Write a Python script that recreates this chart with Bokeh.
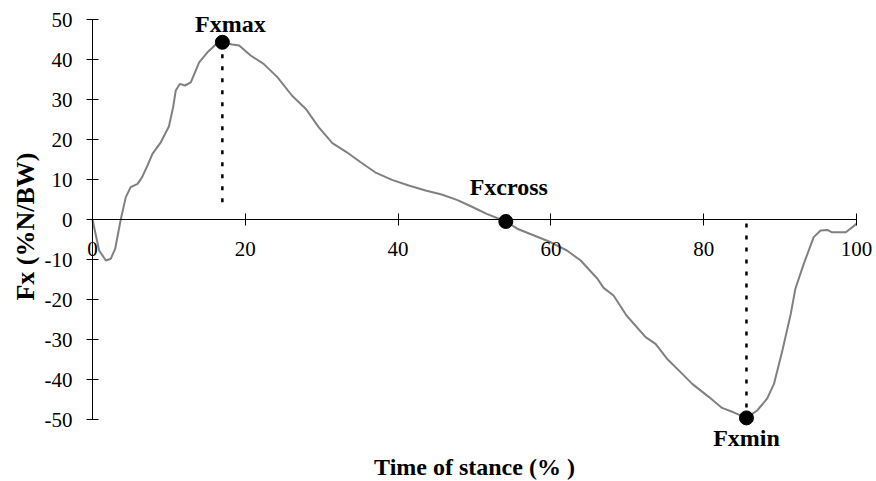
import math

from bokeh.plotting import figure
from bokeh.models import Range1d, LinearAxis, Label, FixedTicker
from bokeh.embed import file_html
from bokeh.resources import INLINE

# Anterior-posterior ground reaction force over one stance phase
stance_pct = [0, 0.87, 1.75, 2.4, 2.97, 3.7, 4.36, 5.0, 5.9, 6.5, 7.2, 7.85, 8.94,
              10.0, 10.56, 10.9, 11.43, 12.1, 12.87, 13.96, 15.05, 16.14, 17.0,
              18.3, 19.2, 20.7, 22.4, 24.2, 26.1, 27.9, 29.6, 31.4, 33.3, 35.1,
              37.0, 39.2, 41.4, 43.6, 45.7, 47.7, 49.6, 51.6, 54.1, 55.6, 57.8,
              60.0, 62.1, 63.9, 66.1, 66.9, 68.2, 69.9, 72.4, 73.7, 75.2, 77.2,
              78.5, 80.7, 82.4, 83.9, 85.6, 87.0, 88.3, 89.2, 90.3, 91.4, 92.0,
              93.1, 94.4, 95.3, 96.2, 96.8, 98.6, 99.2, 100]
fx_pct_bw = [0, -7.75, -10.25, -9.8, -7.3, 0, 5.6, 8.1, 8.9, 10.6, 13.5, 16.4, 19.3,
             23.25, 28.1, 32.25, 33.9, 33.5, 34.3, 39.3, 41.8, 43.75, 44.3,
             43.75, 43.5, 41, 38.9, 35.6, 31, 27.7, 23.1, 19.1, 16.8, 14.3,
             11.8, 9.9, 8.5, 7.25, 6.25, 4.9, 3.25, 1.4, -0.5, -2.3, -4,
             -5.7, -7.75, -10.25, -14.8, -17.1, -19, -24, -29.4, -31.1, -34.8, -38.6,
             -41.1, -44.4, -47.1, -48.2, -49.6, -47.75, -44.8, -41.1, -32.75, -23.6, -17.3,
             -11.1, -4.4, -2.75, -2.6, -3.2, -3.2, -2.3, -1.1]

# Key events: peak braking/propulsive force and the zero crossing
event_names = ["Fxmax", "Fxcross", "Fxmin"]
event_x = [17.0, 54.1, 85.6]
event_y = [44.3, -0.5, -49.6]

# Dotted drop lines from the peaks towards the time axis
drop_x = [17.0, 85.6]
drop_from = [44.3, -1.0]
drop_to = [2.7, -49.6]

x_ticks = [0, 20, 40, 60, 80, 100]
y_ticks = [-50, -40, -30, -20, -10, 0, 10, 20, 30, 40, 50]

SERIF = "Liberation Serif"

# The frame spans the whole canvas so that labels outside the data area are not clipped;
# both axes are pinned to zero in data space.
p = figure(width=876, height=481, output_backend="svg", toolbar_location=None,
           x_range=Range1d(-12.04, 102.62), y_range=Range1d(-65.5, 54.75),
           x_axis_location=None, y_axis_location=None,
           min_border=0, min_border_left=0, min_border_right=0,
           min_border_top=0, min_border_bottom=0)
p.outline_line_color = None
p.xgrid.visible = False
p.ygrid.visible = False
p.background_fill_color = "white"
p.border_fill_color = "white"


def style_axis(ax, standoff):
    ax.axis_line_color = "black"
    ax.axis_line_width = 1
    ax.major_tick_line_color = "black"
    ax.minor_tick_line_color = None
    ax.major_tick_in = 6
    ax.major_tick_out = 6
    ax.major_label_standoff = standoff
    ax.major_label_text_font = SERIF
    ax.major_label_text_font_size = "21px"
    ax.major_label_text_color = "black"


# Force axis
yax = LinearAxis(fixed_location=0, ticker=FixedTicker(ticks=y_ticks), bounds=(-50, 50),
                 major_label_overrides={t: str(t) for t in y_ticks})
style_axis(yax, 14)
p.add_layout(yax, "left")

# Time axis crossing at zero force
xax = LinearAxis(fixed_location=0, ticker=FixedTicker(ticks=x_ticks), bounds=(0, 100),
                 major_label_overrides={t: str(t) for t in x_ticks})
style_axis(xax, 16)
p.add_layout(xax, "below")

# Axis titles
p.add_layout(Label(x=50, y=-61.75, text="Time of stance (% )", text_font=SERIF,
                   text_font_size="24px", text_font_style="bold", text_color="black",
                   text_align="center", text_baseline="middle"))
p.add_layout(Label(x=-8.77, y=-1.75, text="Fx (%N/BW)", angle=math.pi / 2,
                   text_font=SERIF, text_font_size="26px", text_font_style="bold",
                   text_color="black", text_align="center", text_baseline="middle"))

# Force curve
p.line(stance_pct, fx_pct_bw, line_color="#808080", line_width=2)

# Drop lines and event markers
p.segment(x0=drop_x, y0=drop_from, x1=drop_x, y1=drop_to,
          line_color="black", line_width=2.5, line_dash="4 8")
p.scatter(event_x, event_y, size=14, fill_color="black", line_color="black")

offsets = {"Fxmax": (8, 18), "Fxcross": (3, 35), "Fxmin": (0, -20)}
for name, ex, ey in zip(event_names, event_x, event_y):
    dx, dy = offsets[name]
    p.add_layout(Label(x=ex, y=ey, x_offset=dx, y_offset=dy, text=name,
                       text_font=SERIF, text_font_size="24px", text_font_style="bold",
                       text_color="black", text_align="center", text_baseline="middle"))

open("out.html", "w").write(file_html(p, INLINE))
